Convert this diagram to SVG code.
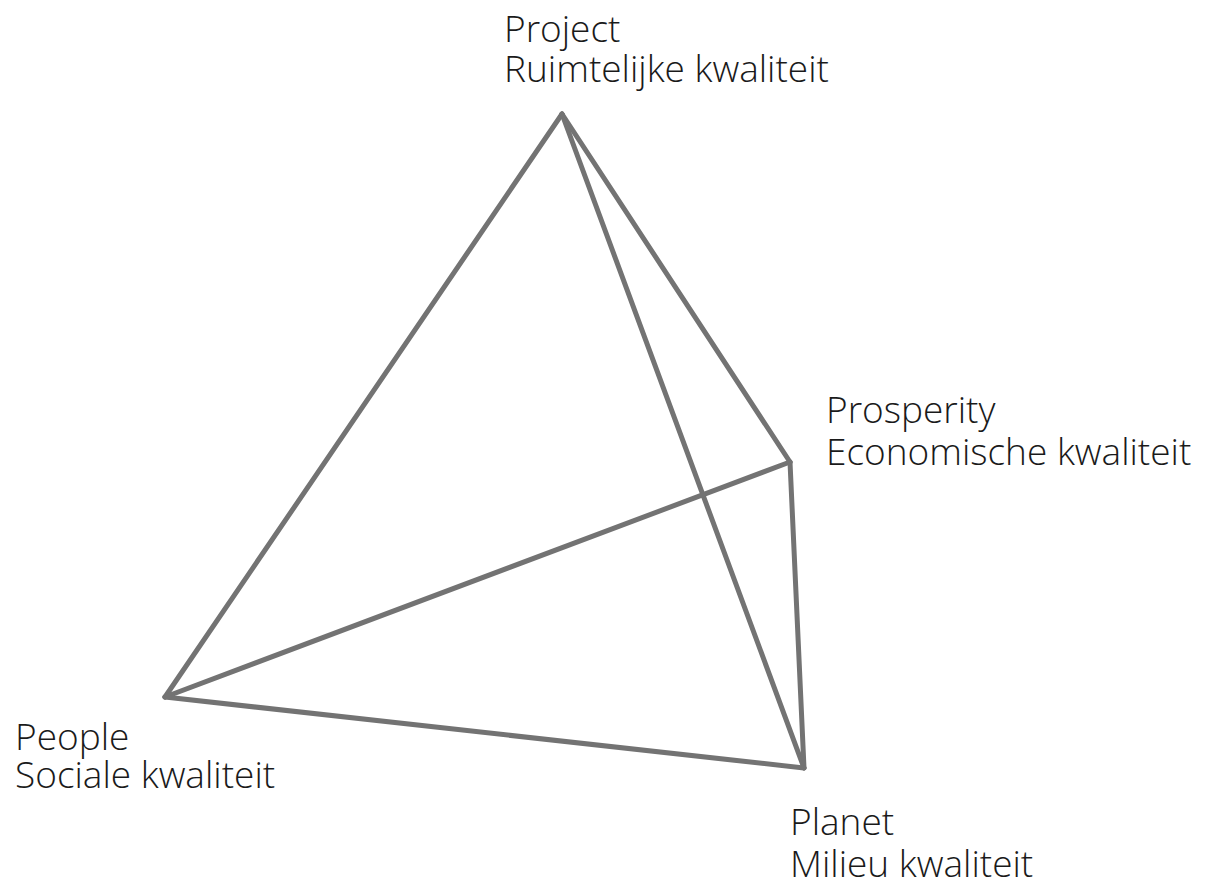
<svg xmlns="http://www.w3.org/2000/svg" width="1214" height="882" viewBox="0 0 1214 882">
<style>
.lbl{font-family:"Open Sans","Noto Sans",sans-serif;font-weight:300;font-size:37px;fill:#1a1a1a}
.edge{stroke:#737373;stroke-width:5;fill:none;stroke-linecap:round;stroke-linejoin:miter}
</style>
<rect width="1214" height="882" fill="#ffffff"/>
<g id="connectors">
<line class="edge" x1="562" y1="114" x2="165" y2="697"/>
<line class="edge" x1="562" y1="114" x2="790" y2="462"/>
<line class="edge" x1="562" y1="114" x2="804" y2="768"/>
<line class="edge" x1="790" y1="462" x2="165" y2="697"/>
<line class="edge" x1="790" y1="462" x2="804" y2="768"/>
<line class="edge" x1="165" y1="697" x2="804" y2="768"/>
</g>
<g id="project">
<text class="lbl" x="504" y="42">Project</text>
<text class="lbl" x="504" y="82">Ruimtelijke kwaliteit</text>
</g>
<g id="prosperity">
<text class="lbl" x="826" y="423">Prosperity</text>
<text class="lbl" x="826" y="465">Economische kwaliteit</text>
</g>
<g id="people">
<text class="lbl" x="15" y="750">People</text>
<text class="lbl" x="15" y="788">Sociale kwaliteit</text>
</g>
<g id="planet">
<text class="lbl" x="790" y="835">Planet</text>
<text class="lbl" x="790" y="877">Milieu kwaliteit</text>
</g>
</svg>
